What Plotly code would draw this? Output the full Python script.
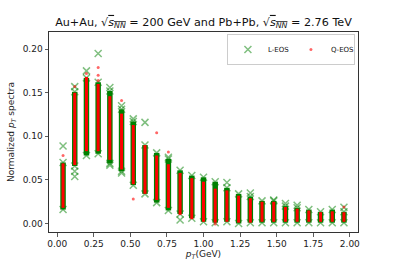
import plotly.graph_objects as go

# pT bin centres (GeV)
pt = [0.04, 0.12, 0.20, 0.28, 0.36, 0.44, 0.52, 0.60, 0.68, 0.76, 0.84, 0.92, 1.00,
      1.08, 1.16, 1.24, 1.32, 1.40, 1.48, 1.56, 1.64, 1.72, 1.80, 1.88, 1.96]

# L-EOS: dense range of events in each bin (top / bottom)
l_top = [0.070, 0.151, 0.167, 0.162, 0.152, 0.131, 0.117, 0.090, 0.081, 0.074, 0.061, 0.055, 0.053,
         0.048, 0.041, 0.034, 0.031, 0.026, 0.026, 0.020, 0.018, 0.016, 0.0135, 0.016, 0.0135]
l_bot = [0.016, 0.066, 0.078, 0.080, 0.069, 0.060, 0.044, 0.034, 0.024, 0.015, 0.011, 0.006, 0.002,
         0.001, 0.002, 0.000, 0.001, 0.001, 0.001, 0.001, 0.001, 0.001, 0.001, 0.001, 0.001]
# L-EOS isolated events
l_out_x = [0.04, 0.12, 0.12, 0.12, 0.20, 0.28, 0.36, 0.36, 0.44, 0.44, 0.52, 0.60, 0.76, 0.84,
           1.16, 1.32, 1.48, 1.56, 1.64, 1.96]
l_out_y = [0.089, 0.157, 0.060, 0.054, 0.175, 0.195, 0.156, 0.067, 0.135, 0.058, 0.120, 0.116,
           0.076, 0.004, 0.047, 0.035, 0.027, 0.023, 0.021, 0.0186]

# Q-EOS: dense range of events in each bin (top / bottom)
q_top = [0.069, 0.150, 0.168, 0.160, 0.146, 0.126, 0.113, 0.090, 0.078, 0.068, 0.058, 0.052, 0.048,
         0.040, 0.038, 0.032, 0.029, 0.025, 0.025, 0.019, 0.017, 0.015, 0.013, 0.014, 0.013]
q_bot = [0.018, 0.067, 0.083, 0.083, 0.073, 0.062, 0.045, 0.034, 0.027, 0.018, 0.010, 0.005, 0.002,
         0.001, 0.002, 0.001, 0.001, 0.002, 0.002, 0.002, 0.002, 0.002, 0.002, 0.002, 0.002]
# Q-EOS isolated events
q_out_x = [0.04, 0.12, 0.20, 0.28, 0.28, 0.28, 0.44, 0.52, 0.68, 0.76, 1.08, 1.96]
q_out_y = [0.078, 0.157, 0.172, 0.179, 0.170, 0.164, 0.141, 0.028, 0.104, 0.082, -0.0005, 0.019]

GREEN = "rgb(0,128,0)"
GREEN_A = "rgba(0,128,0,0.5)"
RED = "rgb(255,0,0)"
RED_A = "rgba(255,0,0,0.6)"


def segs(xs, lo, hi):
    sx, sy = [], []
    for x, a, b in zip(xs, lo, hi):
        sx += [x, x, None]
        sy += [a, b, None]
    return sx, sy


fig = go.Figure()

lx, ly = segs(pt, l_bot, l_top)
fig.add_trace(go.Scatter(x=lx, y=ly, mode="lines", line=dict(color=GREEN, width=5.5),
                         showlegend=False, hoverinfo="skip"))
fig.add_trace(go.Scatter(x=pt + pt + l_out_x, y=l_top + l_bot + l_out_y, mode="markers",
                         name="L-EOS",
                         marker=dict(symbol="x-thin", size=7, color=GREEN_A,
                                     line=dict(color=GREEN_A, width=1.5))))

qx, qy = segs(pt, q_bot, q_top)
fig.add_trace(go.Scatter(x=qx, y=qy, mode="lines", line=dict(color=RED, width=3),
                         showlegend=False, hoverinfo="skip"))
fig.add_trace(go.Scatter(x=q_out_x, y=q_out_y, mode="markers", name="Q-EOS",
                         marker=dict(symbol="circle", size=3, color=RED_A, line=dict(width=0))))

title = ("Au+Au, √<span style='text-decoration:overline'><i>s</i><sub><i>NN</i></sub></span> = 200 GeV and "
         "Pb+Pb, √<span style='text-decoration:overline'><i>s</i><sub><i>NN</i></sub></span> = 2.76 TeV")

axis_common = dict(showline=True, linecolor="#333", linewidth=1, mirror=True,
                   ticks="outside", ticklen=3.5, tickwidth=0.8, tickcolor="#333",
                   showgrid=False, zeroline=False, automargin=False,
                   tickfont=dict(family="DejaVu Sans", size=9, color="#222"))

fig.update_layout(
    width=399, height=266,
    margin=dict(l=49, r=41, t=32, b=34, autoexpand=False),
    paper_bgcolor="white", plot_bgcolor="white",
    title=dict(text=title, x=0.5, xanchor="center", xref="paper",
               y=1 - 22 / 266, yanchor="middle", automargin=False,
               font=dict(family="DejaVu Sans", size=11.2, color="#111")),
    xaxis=dict(range=[-0.056, 2.056], tickvals=[0, 0.25, 0.5, 0.75, 1.0, 1.25, 1.5, 1.75, 2.0],
               ticktext=["0.00", "0.25", "0.50", "0.75", "1.00", "1.25", "1.50", "1.75", "2.00"],
               title=dict(text="<i>p</i><sub><i>T</i></sub>(GeV)", standoff=0,
                          font=dict(family="DejaVu Sans", size=9, color="#222")),
               **axis_common),
    yaxis=dict(range=[-0.0097, 0.2196], tickvals=[0, 0.05, 0.10, 0.15, 0.20],
               ticktext=["0.00", "0.05", "0.10", "0.15", "0.20"],
               title=dict(text="Normalized <i>p</i><sub><i>T</i></sub> spectra", standoff=6,
                          font=dict(family="DejaVu Sans", size=9, color="#222")),
               **axis_common),
    legend=dict(orientation="h", x=0.99, y=0.99, xanchor="right", yanchor="top",
                bgcolor="rgba(255,255,255,0.8)", bordercolor="#ccc", borderwidth=1,
                font=dict(family="DejaVu Sans", size=7, color="#111"),
                entrywidth=18, entrywidthmode="pixels", itemwidth=30, tracegroupgap=0),
    showlegend=True,
)

fig.write_html("out.html", config={"staticPlot": True, "displayModeBar": False},
               post_script="document.body.style.margin='0px';document.body.style.overflow='hidden';")
